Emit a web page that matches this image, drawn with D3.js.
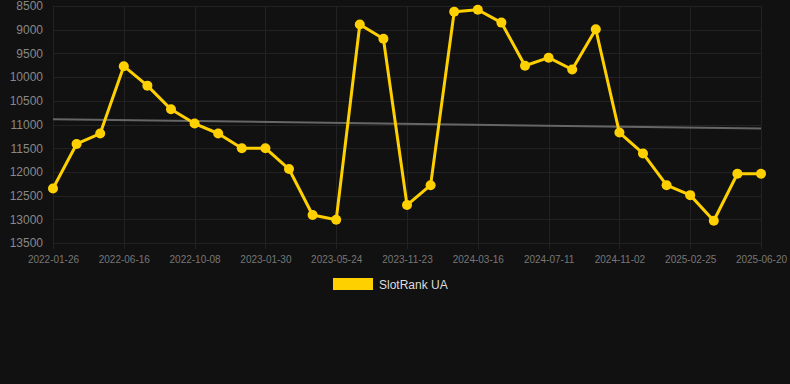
<!DOCTYPE html>
<html>
<head>
<meta charset="utf-8">
<script src="https://d3js.org/d3.v7.min.js"></script>
<style>
    html, body { margin: 0; padding: 0; background: #111111; }
    svg { display: block; font-family: "Liberation Sans", Arial, sans-serif; }
</style>
</head>
<body>
<div id="chart"></div>
<script>
    // dates on the x axis (category axis, every 3rd one is labelled)
    var dates = [
        '2022-01-26', '2022-03-14', '2022-04-30',
        '2022-06-16', '2022-07-24', '2022-08-31',
        '2022-10-08', '2022-11-15', '2022-12-23',
        '2023-01-30', '2023-03-09', '2023-04-16',
        '2023-05-24', '2023-07-24', '2023-09-23',
        '2023-11-23', '2023-12-31', '2024-02-07',
        '2024-03-16', '2024-04-24', '2024-06-02',
        '2024-07-11', '2024-08-18', '2024-09-25',
        '2024-11-02', '2024-12-10', '2025-01-17',
        '2025-02-25', '2025-04-04', '2025-05-12',
        '2025-06-20'
    ];
    var ranks = [
        12350, 11410, 11190, 9770, 10180, 10680, 10980, 11190, 11500, 11500,
        11940, 12910, 13010, 8890, 9190, 12700, 12280, 8620, 8580, 8850,
        9760, 9590, 9840, 8990, 11170, 11610, 12280, 12490, 13030, 12040,
        12040
    ];
    var yTicks = [8500, 9000, 9500, 10000, 10500, 11000, 11500, 12000, 12500, 13000, 13500];
    var seriesName = 'SlotRank UA';

    var width = 790, height = 384;
    var plotLeft = 53, plotRight = 761, plotTop = 6, plotBottom = 243;
    var yellow = '#ffd000';

    var svg = d3.select('#chart').append('svg')
        .attr('width', width)
        .attr('height', height);

    var x = d3.scalePoint()
        .domain(dates)
        .range([plotLeft, plotRight]);
    var y = d3.scaleLinear()
        .domain([8500, 13500])
        .range([plotTop, plotBottom]);

    var labelled = dates.filter(function (d, i) { return i % 3 === 0; });

    // grid
    svg.append('g').selectAll('line')
        .data(yTicks).enter().append('line')
        .attr('x1', plotLeft).attr('x2', plotRight)
        .attr('y1', function (d) { return Math.round(y(d)) + 0.5; })
        .attr('y2', function (d) { return Math.round(y(d)) + 0.5; })
        .attr('stroke', '#222222').attr('stroke-width', 1);
    svg.append('g').selectAll('line')
        .data(labelled).enter().append('line')
        .attr('x1', function (d) { return Math.round(x(d)) + 0.5; })
        .attr('x2', function (d) { return Math.round(x(d)) + 0.5; })
        .attr('y1', plotTop).attr('y2', plotBottom + 6)
        .attr('stroke', '#222222').attr('stroke-width', 1);

    // axes
    var yAxis = svg.append('g')
        .attr('transform', 'translate(' + (plotLeft - 10) + ',0)')
        .call(d3.axisLeft(y).tickValues(yTicks).tickSize(0).tickPadding(0).tickFormat(d3.format('d')));
    yAxis.select('.domain').remove();
    yAxis.selectAll('text').attr('fill', '#888888').style('font-size', '12px')
        .style('font-family', '"Liberation Sans", Arial, sans-serif');

    var xAxis = svg.append('g')
        .attr('transform', 'translate(0,' + (plotBottom + 13) + ')')
        .call(d3.axisBottom(x).tickValues(labelled).tickSize(0).tickPadding(0));
    xAxis.select('.domain').remove();
    xAxis.selectAll('text').attr('fill', '#777777').style('font-size', '10px')
        .style('font-family', '"Liberation Sans", Arial, sans-serif');

    // trend line (least squares over the series)
    var n = ranks.length;
    var mx = d3.mean(ranks, function (d, i) { return i; });
    var my = d3.mean(ranks);
    var sxy = d3.sum(ranks, function (d, i) { return (i - mx) * (d - my); });
    var sxx = d3.sum(ranks, function (d, i) { return (i - mx) * (i - mx); });
    var slope = sxy / sxx;
    var icpt = my - slope * mx;
    svg.append('line')
        .attr('x1', x(dates[0])).attr('y1', y(icpt))
        .attr('x2', x(dates[n - 1])).attr('y2', y(icpt + slope * (n - 1)))
        .attr('stroke', '#666666').attr('stroke-width', 2);

    // series
    var line = d3.line()
        .x(function (d, i) { return x(dates[i]); })
        .y(function (d) { return y(d); });
    svg.append('path')
        .datum(ranks)
        .attr('d', line)
        .attr('fill', 'none')
        .attr('stroke', yellow)
        .attr('stroke-width', 3)
        .attr('stroke-linejoin', 'round');
    svg.append('g').selectAll('circle')
        .data(ranks).enter().append('circle')
        .attr('cx', function (d, i) { return x(dates[i]); })
        .attr('cy', function (d) { return y(d); })
        .attr('r', 5)
        .attr('fill', yellow);

    // legend
    var legend = svg.append('g').attr('transform', 'translate(333,278)');
    legend.append('rect')
        .attr('width', 40).attr('height', 12)
        .attr('fill', yellow);
    legend.append('text')
        .attr('x', 46).attr('y', 10.5)
        .attr('fill', '#dddddd')
        .style('font-size', '12px')
        .text(seriesName);
</script>
</body>
</html>
